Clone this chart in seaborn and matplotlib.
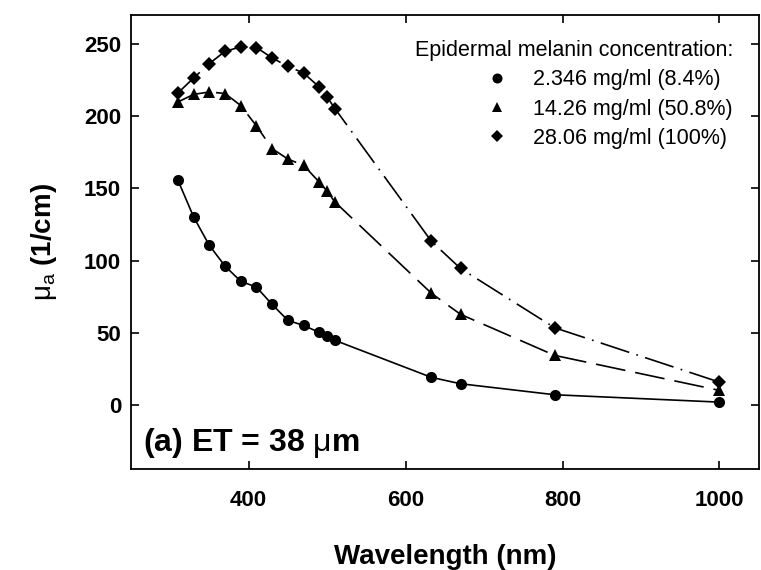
import matplotlib
matplotlib.use("Agg")
import matplotlib.pyplot as plt
from matplotlib.lines import Line2D
import seaborn as sns
import pandas as pd

# wavelengths (nm) and absorption coefficients (1/cm)
wavelength = [310, 330, 350, 370, 390, 410, 430, 450, 470, 490, 500, 510, 633, 670, 790, 1000]
mua_low = [155.6, 130.2, 110.6, 96.3, 85.8, 81.8, 69.8, 58.8, 55.3, 50.5, 47.9, 45.0, 19.4, 15.0, 7.4, 2.3]
mua_mid = [209.8, 215.0, 216.7, 215.6, 207.3, 193.2, 177.5, 170.3, 166.0, 154.4, 148.0, 140.6, 77.5, 63.0, 34.6, 10.4]
mua_high = [216.0, 226.4, 236.3, 244.8, 247.8, 247.4, 240.2, 234.4, 229.8, 220.1, 213.2, 205.2, 113.4, 94.7, 53.7, 16.1]

labels = ["2.346 mg/ml (8.4%)", "14.26 mg/ml (50.8%)", "28.06 mg/ml (100%)"]
markers = ["o", "^", "D"]
styles = ["-", (0, (18, 6)), (0, (18, 4.5, 1, 4.5))]
msizes = [8, 8.5, 7]
leg_sizes = [7.2, 6.8, 5.8]

x_ticks = [400, 600, 800, 1000]
y_ticks = [0, 50, 100, 150, 200, 250]

sns.set_style("ticks")
plt.rcParams['font.family'] = ['Liberation Sans', 'DejaVu Sans']
plt.rcParams['mathtext.fontset'] = 'custom'
plt.rcParams['mathtext.rm'] = 'Liberation Sans'
plt.rcParams['mathtext.it'] = 'Liberation Sans:italic'
plt.rcParams['mathtext.bf'] = 'Liberation Sans:bold'
plt.rcParams['text.color'] = 'black'
plt.rcParams['axes.labelcolor'] = 'black'
plt.rcParams['xtick.color'] = 'black'
plt.rcParams['ytick.color'] = 'black'

fig, ax = plt.subplots(figsize=(7.61, 5.70), dpi=100)
fig.subplots_adjust(left=0.172, right=0.997, bottom=0.177, top=0.974)

for vals, lab, mk, ls, ms in zip([mua_low, mua_mid, mua_high], labels, markers, styles, msizes):
    df = pd.DataFrame({"wl": wavelength, "mua": vals})
    sns.lineplot(data=df, x="wl", y="mua", ax=ax, color="black", linewidth=1.2,
                 linestyle=ls, marker=mk, markersize=ms, markeredgewidth=0,
                 errorbar=None, legend=False)

ax.set_xlim(250, 1050)
ax.set_ylim(-44, 270)
ax.set_xticks(x_ticks)
ax.set_yticks(y_ticks)
ax.tick_params(direction="in", length=6, width=1.2, top=True, right=True,
               labelsize=16)
ax.tick_params(axis="x", pad=15)
ax.tick_params(axis="y", pad=7)
for t in ax.get_xticklabels() + ax.get_yticklabels():
    t.set_fontweight("bold")
for sp in ax.spines.values():
    sp.set_linewidth(1.3)
    sp.set_color("black")

ax.set_xlabel("Wavelength (nm)", fontsize=20, fontweight="bold", labelpad=24)
ax.set_ylabel(r"$\mathrm{\mu_a}$ (1/cm)", fontsize=20, fontweight="bold", labelpad=18)

ax.text(0.02, 0.04, r"(a) ET = 38 $\mathrm{\mu}$m", transform=ax.transAxes,
        fontsize=23, fontweight="bold", va="baseline", ha="left")

handles = [Line2D([], [], color="black", marker=m, linestyle="none",
                  markersize=s, markeredgewidth=0)
           for m, s in zip(markers, leg_sizes)]
leg = ax.legend(handles, labels, title="Epidermal melanin concentration:",
                loc="upper right", bbox_to_anchor=(0.959, 0.944), frameon=False,
                fontsize=15.5, title_fontsize=15.5, alignment="right",
                handlelength=1.2, handletextpad=1.1, labelspacing=0.38,
                borderaxespad=0, borderpad=0)

fig.savefig("out.png", dpi=100)
